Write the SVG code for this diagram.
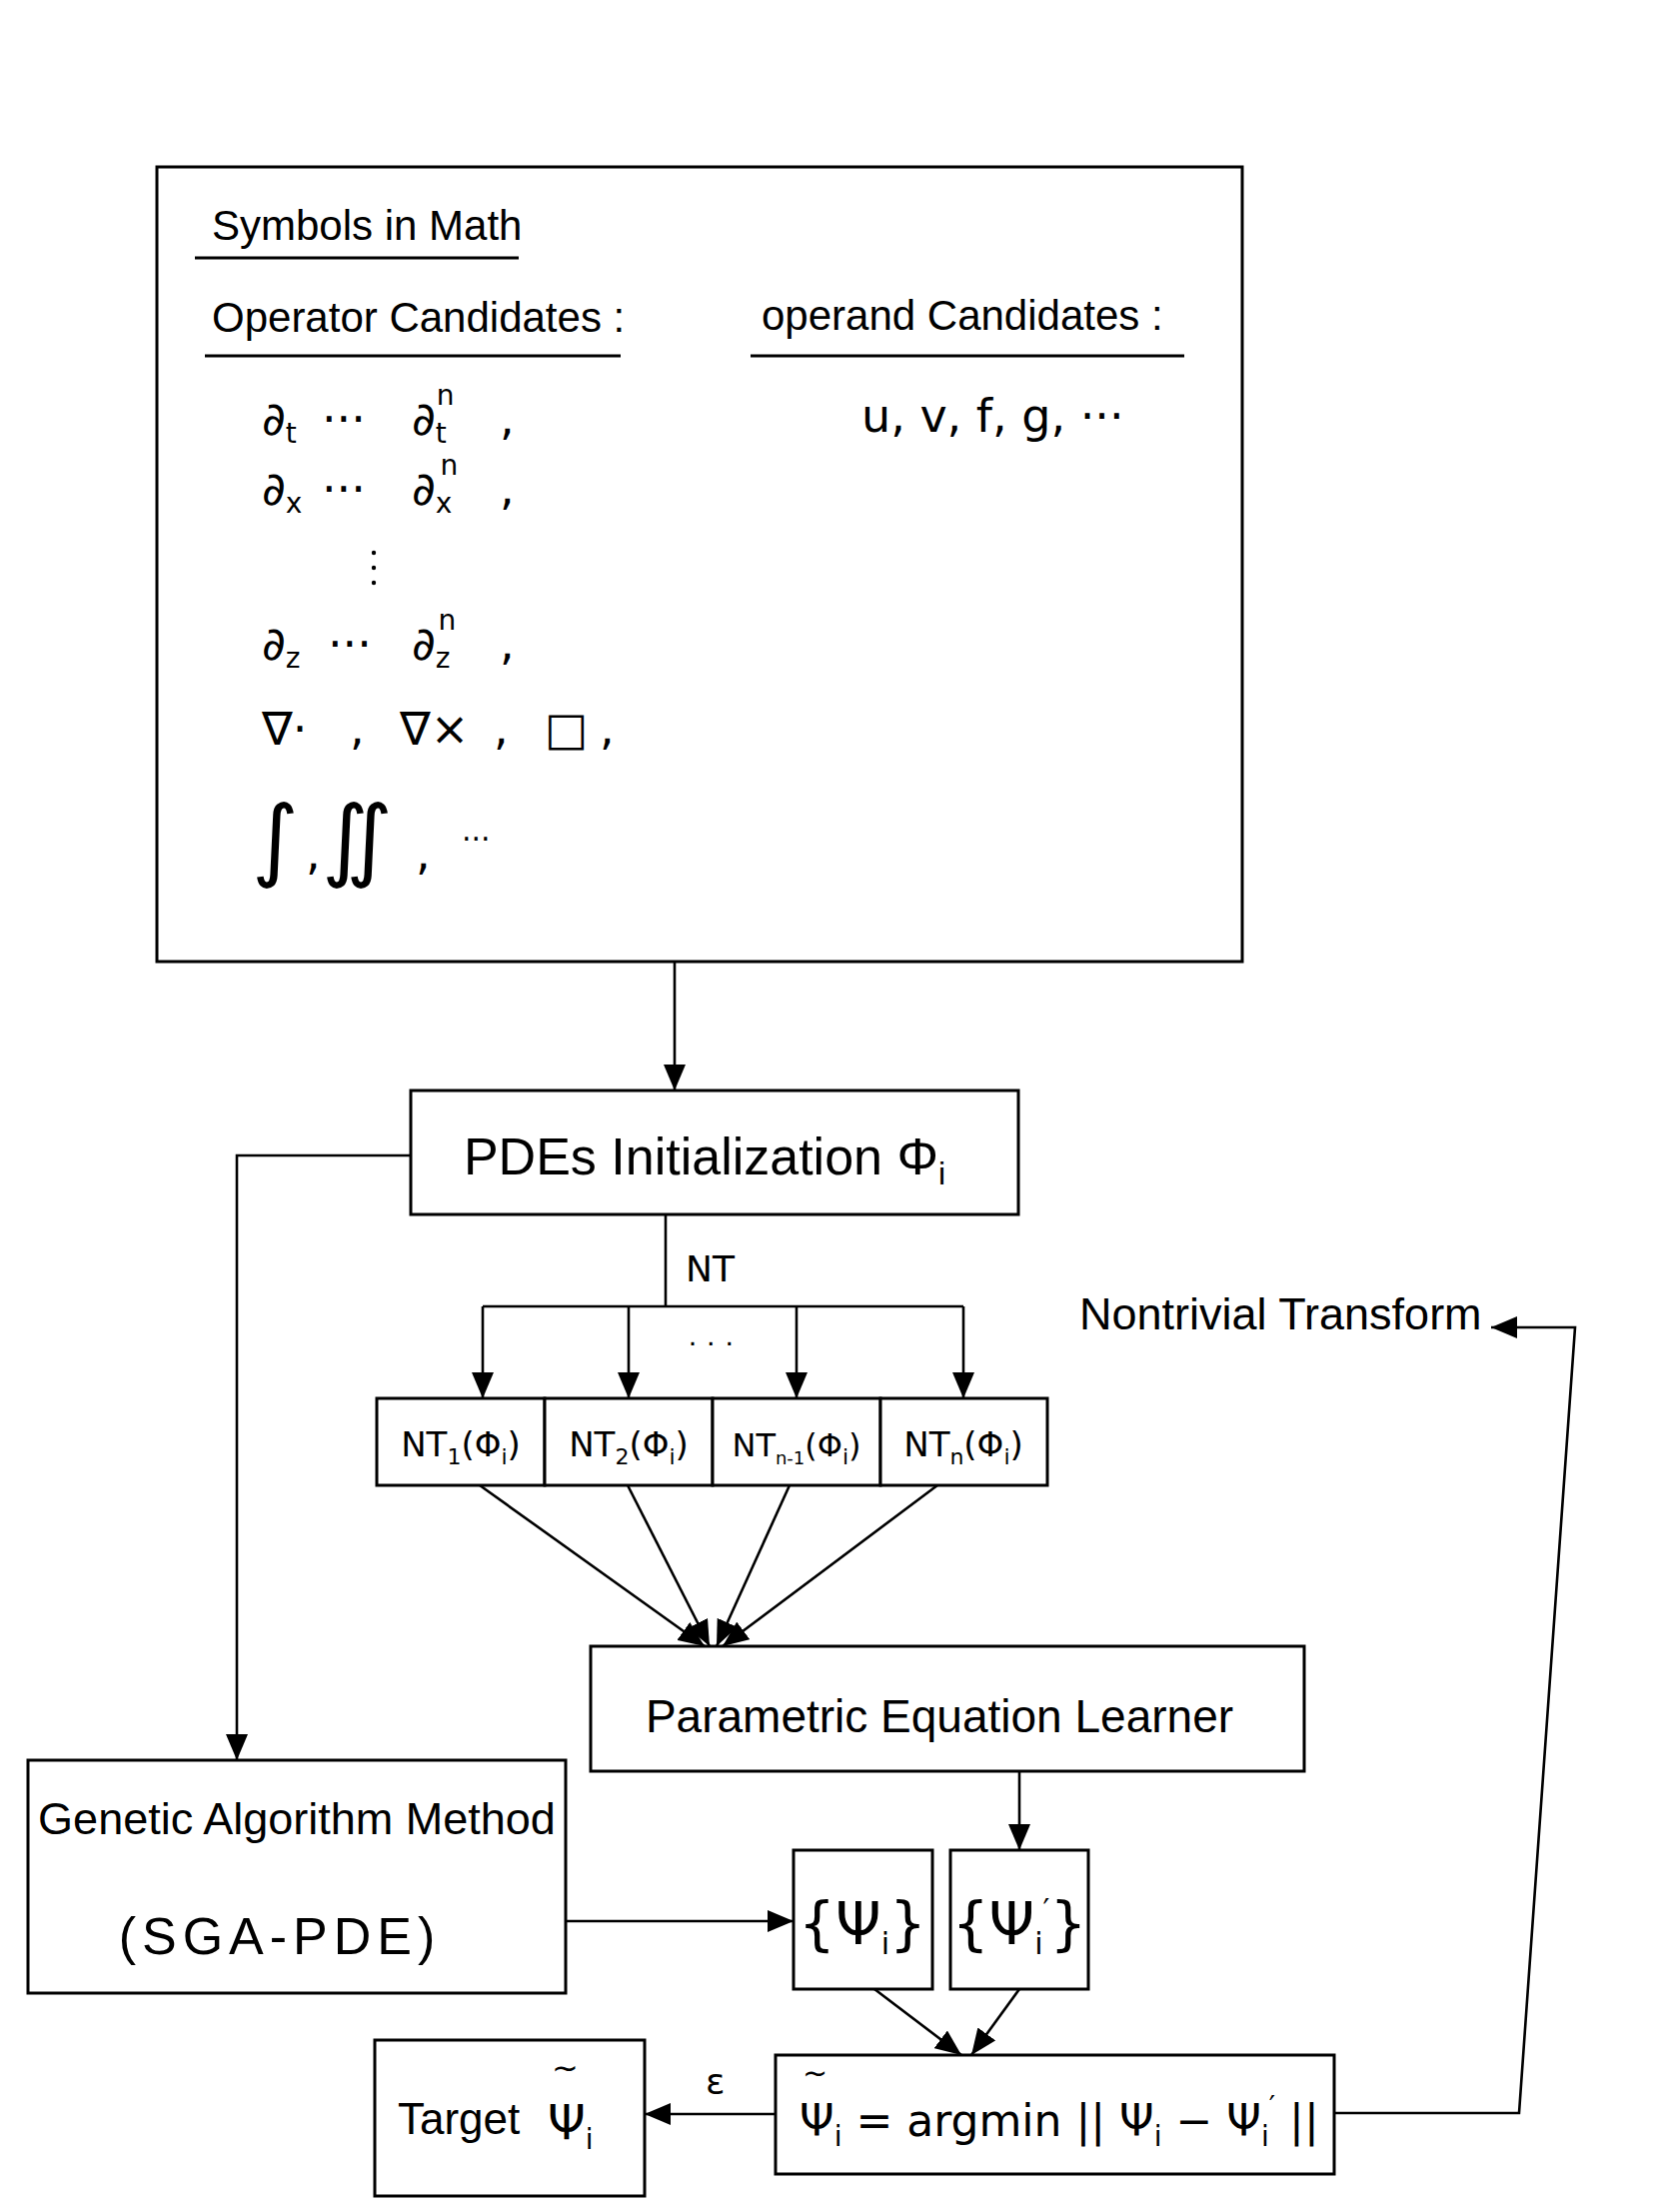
<svg xmlns="http://www.w3.org/2000/svg" width="1661" height="2213" viewBox="0 0 1661 2213">
<style>
.box{fill:#fff;stroke:#000;stroke-width:3}
.ln{fill:none;stroke:#000;stroke-width:2.6}
.ul{stroke:#000;stroke-width:3}
.t{font-family:"Liberation Sans","DejaVu Sans",sans-serif;fill:#000}
.m{font-family:"DejaVu Sans","Liberation Sans",sans-serif;fill:#000}
</style>
<defs>
<marker id="ah" markerWidth="26" markerHeight="22" refX="26" refY="11" orient="auto" markerUnits="userSpaceOnUse">
<path d="M0,0 L26,11 L0,22 z" fill="#000"/>
</marker>
</defs>
<rect width="1661" height="2213" fill="#fff"/>

<g id="connectors">
<path class="ln" d="M675,962 V1091" marker-end="url(#ah)"/>
<path class="ln" d="M411,1156 H237 V1761" marker-end="url(#ah)"/>
<path class="ln" d="M666,1215 V1307"/>
<path class="ln" d="M483,1307 H964"/>
<path class="ln" d="M483,1307 V1399" marker-end="url(#ah)"/>
<path class="ln" d="M629,1307 V1399" marker-end="url(#ah)"/>
<path class="ln" d="M797,1307 V1399" marker-end="url(#ah)"/>
<path class="ln" d="M964,1307 V1399" marker-end="url(#ah)"/>
<path class="ln" d="M480,1486 L705,1647" marker-end="url(#ah)"/>
<path class="ln" d="M628,1486 L710,1647" marker-end="url(#ah)"/>
<path class="ln" d="M790,1486 L717,1647" marker-end="url(#ah)"/>
<path class="ln" d="M938,1486 L723,1647" marker-end="url(#ah)"/>
<path class="ln" d="M1020,1772 V1851" marker-end="url(#ah)"/>
<path class="ln" d="M566,1922 H794" marker-end="url(#ah)"/>
<path class="ln" d="M875,1990 L962,2056" marker-end="url(#ah)"/>
<path class="ln" d="M1020,1990 L972,2056" marker-end="url(#ah)"/>
<path class="ln" d="M776,2115 H645" marker-end="url(#ah)"/>
<path class="ln" d="M1335,2114 H1520 L1576,1328 H1492" marker-end="url(#ah)"/>
<text class="m" x="686" y="1282" font-size="36">NT</text>
<text class="t" x="688" y="1352" font-size="30">· · ·</text>
<text class="m" x="706" y="2095" font-size="36">ε</text>
<text class="t" x="1080" y="1330" font-size="45">Nontrivial  Transform</text>
</g>

<g id="symbols">
<rect class="box" x="157" y="167" width="1086" height="795"/>
<text class="t" x="212" y="240" font-size="42">Symbols in Math</text>
<line class="ul" x1="195" y1="258" x2="519" y2="258"/>
<text class="t" x="212" y="332" font-size="42">Operator  Candidates :</text>
<line class="ul" x1="205" y1="356" x2="621" y2="356"/>
<text class="t" x="762" y="330" font-size="42">operand  Candidates :</text>
<line class="ul" x1="751" y1="356" x2="1185" y2="356"/>
<text class="m" font-size="46" y="435"><tspan x="262">∂</tspan><tspan font-size="28" dy="8">t</tspan><tspan x="322" dy="-8">···</tspan><tspan x="412">∂</tspan><tspan font-size="28" dy="8">t</tspan><tspan font-size="28" dx="-10" dy="-38">n</tspan><tspan x="500" dy="30">,</tspan></text>
<text class="m" font-size="46" y="505"><tspan x="262">∂</tspan><tspan font-size="28" dy="8">x</tspan><tspan x="322" dy="-8">···</tspan><tspan x="412">∂</tspan><tspan font-size="28" dy="8">x</tspan><tspan font-size="28" dx="-12" dy="-38">n</tspan><tspan x="500" dy="30">,</tspan></text>
<circle cx="374" cy="553" r="2.2"/>
<circle cx="374" cy="568" r="2.2"/>
<circle cx="374" cy="583" r="2.2"/>
<text class="m" font-size="46" y="660"><tspan x="262">∂</tspan><tspan font-size="28" dy="8">z</tspan><tspan x="328" dy="-8">···</tspan><tspan x="412">∂</tspan><tspan font-size="28" dy="8">z</tspan><tspan font-size="28" dx="-12" dy="-38">n</tspan><tspan x="500" dy="30">,</tspan></text>
<text class="m" font-size="46" y="745"><tspan x="262">∇·</tspan><tspan x="350">,</tspan><tspan x="400">∇×</tspan><tspan x="494">,</tspan><tspan x="545">□</tspan><tspan x="600">,</tspan></text>
<text class="m" font-size="90" y="870"><tspan x="252">∫</tspan><tspan x="306" font-size="46">,</tspan><tspan x="322">∬</tspan><tspan x="416" font-size="46">,</tspan><tspan x="462" font-size="30" dy="-20">···</tspan></text>
<text class="m" x="862" y="432" font-size="46">u, v, f, g, ···</text>
</g>

<g id="pde-init">
<rect class="box" x="411" y="1091" width="608" height="124"/>
<text class="t" x="705" y="1175" font-size="52" text-anchor="middle">PDEs Initialization Φ<tspan font-size="32" dy="10">i</tspan></text>
</g>

<g id="nt-row">
<rect class="box" x="377" y="1399" width="168" height="87"/>
<rect class="box" x="545" y="1399" width="168" height="87"/>
<rect class="box" x="713" y="1399" width="168" height="87"/>
<rect class="box" x="881" y="1399" width="167" height="87"/>
<text class="m" x="461" y="1457" font-size="34" text-anchor="middle">NT<tspan font-size="22" dy="8">1</tspan><tspan dy="-8">(Φ</tspan><tspan font-size="22" dy="8">i</tspan><tspan dy="-8">)</tspan></text>
<text class="m" x="629" y="1457" font-size="34" text-anchor="middle">NT<tspan font-size="22" dy="8">2</tspan><tspan dy="-8">(Φ</tspan><tspan font-size="22" dy="8">i</tspan><tspan dy="-8">)</tspan></text>
<text class="m" x="797" y="1457" font-size="32" text-anchor="middle">NT<tspan font-size="18" dy="8">n-1</tspan><tspan dy="-8">(Φ</tspan><tspan font-size="22" dy="8">i</tspan><tspan dy="-8">)</tspan></text>
<text class="m" x="964" y="1457" font-size="34" text-anchor="middle">NT<tspan font-size="22" dy="8">n</tspan><tspan dy="-8">(Φ</tspan><tspan font-size="22" dy="8">i</tspan><tspan dy="-8">)</tspan></text>
</g>

<g id="pel">
<rect class="box" x="591" y="1647" width="714" height="125"/>
<text class="t" x="940" y="1733" font-size="46" text-anchor="middle">Parametric Equation Learner</text>
</g>

<g id="ga">
<rect class="box" x="28" y="1761" width="538" height="233"/>
<text class="t" x="297" y="1835" font-size="45" text-anchor="middle">Genetic Algorithm Method</text>
<text class="t" x="280" y="1955" font-size="52" text-anchor="middle" letter-spacing="6">(SGA-PDE)</text>
</g>

<g id="psi">
<rect class="box" x="794" y="1851" width="139" height="139"/>
<text class="m" x="863" y="1945" font-size="58" text-anchor="middle">{Ψ<tspan font-size="30" dy="10">i</tspan><tspan dy="-10">}</tspan></text>
</g>

<g id="psi-prime">
<rect class="box" x="951" y="1851" width="138" height="139"/>
<text class="m" x="1020" y="1945" font-size="58" text-anchor="middle">{Ψ<tspan font-size="30" dy="10">i</tspan><tspan font-size="30" dy="-34">′</tspan><tspan dy="24">}</tspan></text>
</g>

<g id="argmin">
<rect class="box" x="776" y="2056" width="559" height="119"/>
<text class="m" x="803" y="2084" font-size="30">~</text>
<text class="m" x="800" y="2137" font-size="44">Ψ<tspan font-size="28" dy="10">i</tspan><tspan dy="-10"> = argmin || Ψ</tspan><tspan font-size="28" dy="10">i</tspan><tspan dy="-10"> − Ψ</tspan><tspan font-size="28" dy="10">i</tspan><tspan font-size="28" dy="-30">′</tspan><tspan dy="20"> ||</tspan></text>
</g>

<g id="target">
<rect class="box" x="375" y="2041" width="270" height="156"/>
<text class="t" x="398" y="2135" font-size="44">Target</text>
<text class="m" x="552" y="2080" font-size="32">~</text>
<text class="m" x="548" y="2140" font-size="48">Ψ<tspan font-size="28" dy="10">i</tspan></text>
</g>
</svg>
